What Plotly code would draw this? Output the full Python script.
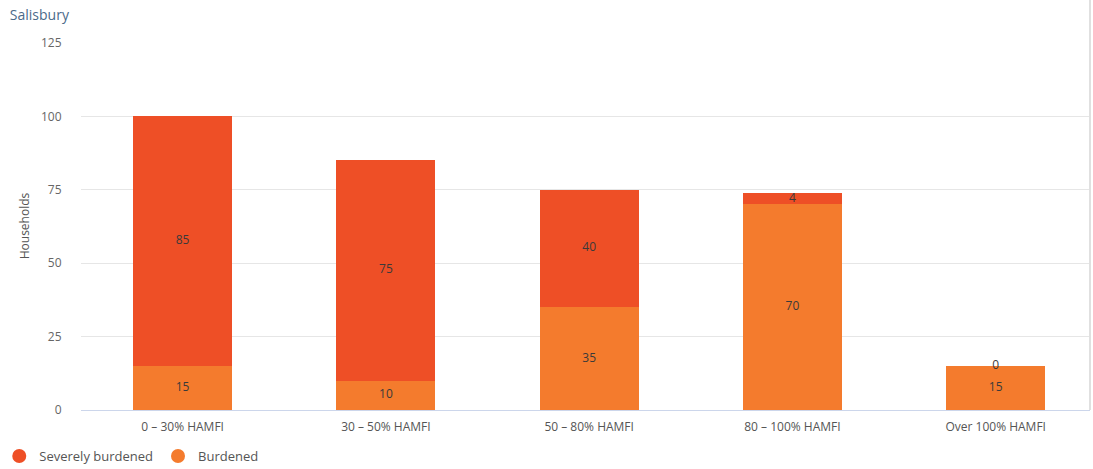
import plotly.graph_objects as go

categories = ["0 – 30% HAMFI", "30 – 50% HAMFI", "50 – 80% HAMFI", "80 – 100% HAMFI", "Over 100% HAMFI"]
burdened = [15, 10, 35, 70, 15]
severely = [85, 75, 40, 4, 0]
y_ticks = [0, 25, 50, 75, 100, 125]

C_SEV = "#EE4F26"
C_BUR = "#F47B2D"
FONT = "Open Sans"

fig = go.Figure()
fig.add_trace(go.Bar(x=categories, y=burdened, name="Burdened", marker=dict(color=C_BUR, line=dict(width=0)),
                     showlegend=False, hoverinfo="skip"))
fig.add_trace(go.Bar(x=categories, y=severely, name="Severely burdened", marker=dict(color=C_SEV, line=dict(width=0)),
                     showlegend=False, hoverinfo="skip"))

# labels at segment centres
fig.add_trace(go.Scatter(x=categories, y=[b / 2 for b in burdened], mode="text",
                         text=[str(v) for v in burdened], textfont=dict(color="#3a3a3a", size=12, family=FONT),
                         showlegend=False, hoverinfo="skip"))
fig.add_trace(go.Scatter(x=categories, y=[b + s / 2 for b, s in zip(burdened, severely)], mode="text",
                         text=[str(v) for v in severely], textfont=dict(color="#3a3a3a", size=12, family=FONT),
                         showlegend=False, hoverinfo="skip"))

# legend entries with circle markers
fig.add_trace(go.Scatter(x=[None], y=[None], mode="markers", name="Severely burdened",
                         marker=dict(symbol="circle", size=14, color=C_SEV)))
fig.add_trace(go.Scatter(x=[None], y=[None], mode="markers", name="Burdened",
                         marker=dict(symbol="circle", size=14, color=C_BUR)))

fig.update_layout(
    barmode="stack",
    bargap=0.513,
    width=1093, height=469,
    margin=dict(l=81, r=3, t=42, b=59, autoexpand=False),
    paper_bgcolor="white", plot_bgcolor="white",
    font=dict(family=FONT, size=12, color="#666666"),
    title=dict(text="Salisbury", x=0.009, xanchor="left", y=0.968, yanchor="middle",
               font=dict(family=FONT, size=14, color="#4b6a8a")),
    legend=dict(orientation="h", x=-0.081, xanchor="left", y=-0.125, yanchor="middle",
                traceorder="normal",
                font=dict(family=FONT, size=13, color="#555555"), itemsizing="trace",
                bgcolor="rgba(0,0,0,0)"),
    xaxis=dict(showgrid=False, showline=True, linecolor="#ccd6eb", linewidth=1,
               range=[-0.5, 4.464],
               tickfont=dict(size=12, color="#555555"), ticks="outside", ticklen=6, tickcolor="rgba(0,0,0,0)",
               fixedrange=True),
    yaxis=dict(range=[0, 125.3], tickvals=y_ticks, showgrid=True, gridcolor="#e6e6e6", gridwidth=1,
               zeroline=False, showline=False,
               ticks="outside", ticklen=16, tickcolor="rgba(0,0,0,0)",
               tickfont=dict(size=12, color="#666666"),
               title=dict(text="Households", font=dict(size=12, color="#555555"), standoff=8)),
    shapes=[dict(type="line", xref="paper", yref="paper", x0=1, x1=1, y0=0, y1=1.12,
                 line=dict(color="#e0e0e0", width=2))],
)

fig.write_html("out.html", config={"displayModeBar": False},
               post_script="document.body.style.margin='0px';")
